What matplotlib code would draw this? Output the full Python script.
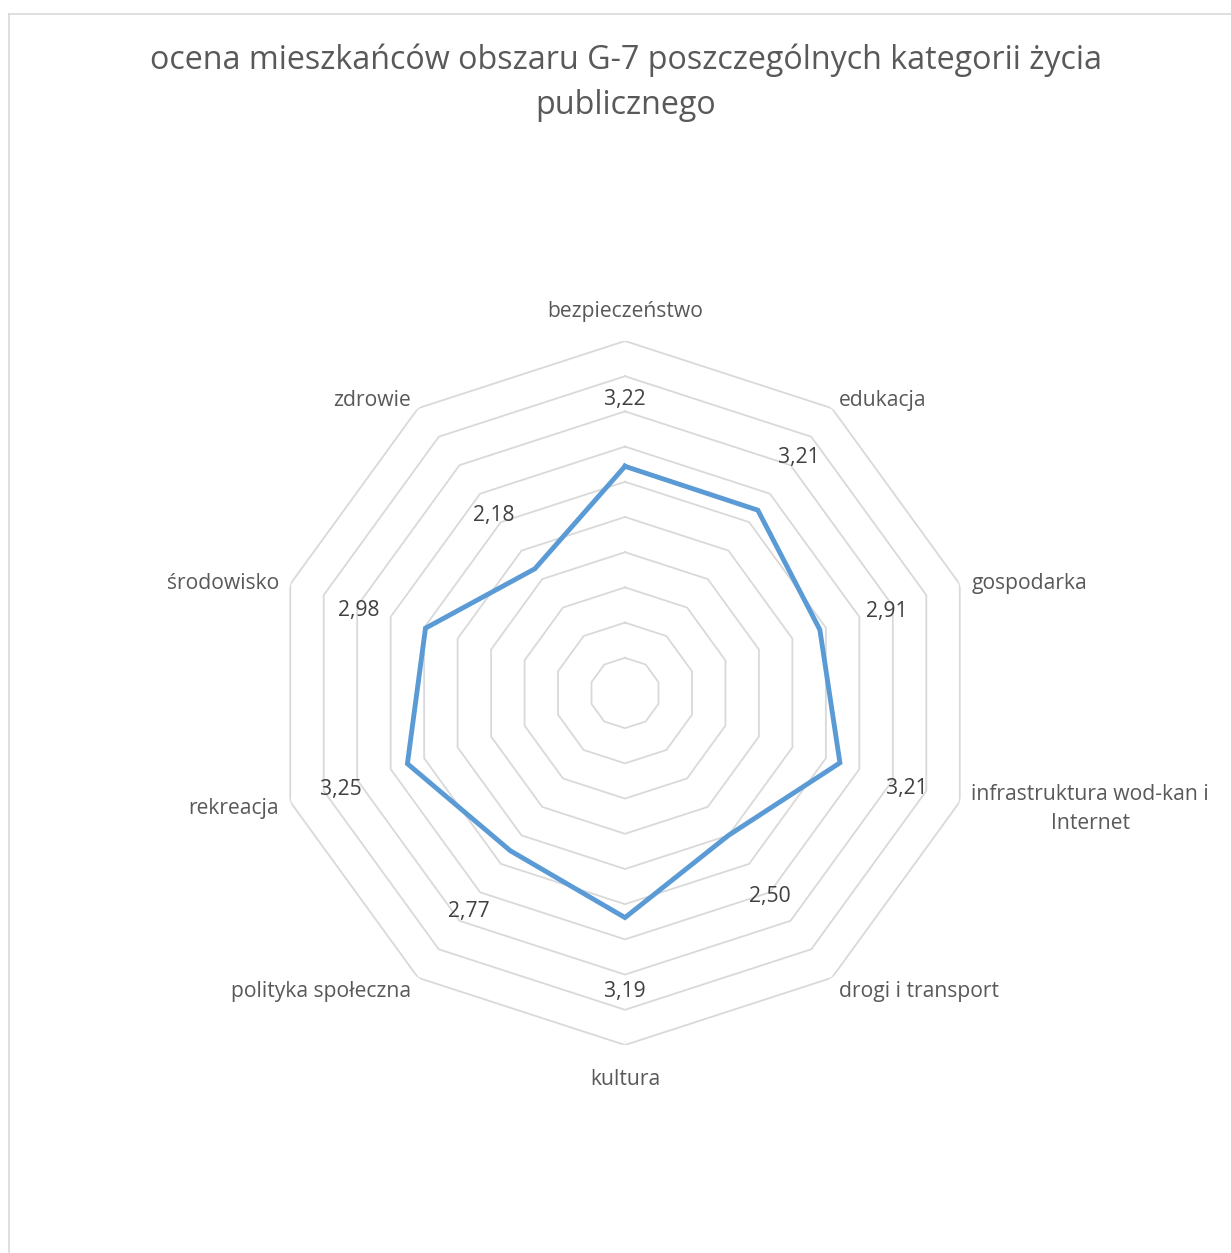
#!/usr/bin/env python3
"""Radar chart: ocena mieszkancow obszaru G-7 (kategorie zycia publicznego)."""

import numpy as np
import matplotlib
matplotlib.use('Agg')
import matplotlib.pyplot as plt
from matplotlib.lines import Line2D

categories = ['bezpieczeństwo', 'edukacja', 'gospodarka',
              'infrastruktura wod-kan i\nInternet', 'drogi i transport',
              'kultura', 'polityka społeczna', 'rekreacja', 'środowisko',
              'zdrowie']
values = [3.22, 3.21, 2.91, 3.21, 2.50, 3.19, 2.77, 3.25, 2.98, 2.18]
ring_levels = [0.5, 1.0, 1.5, 2.0, 2.5, 3.0, 3.5, 4.0, 4.5, 5.0]

TITLE = 'ocena mieszkańców obszaru G-7 poszczególnych kategorii życia\npublicznego'
LINE_COLOR = '#5B9BD5'
GRID_COLOR = '#D9D9D9'
TEXT_COLOR = '#595959'
LABEL_COLOR = '#404040'

plt.rcParams['font.family'] = ['Open Sans', 'DejaVu Sans']

W, H = 1231, 1253
fig = plt.figure(figsize=(W / 100, H / 100), dpi=100)

# chart area border (only top and left edge visible in the crop)
fig.add_artist(Line2D([9 / W, 9 / W], [0, 1 - 13.5 / H], color=GRID_COLOR, lw=1.2))
fig.add_artist(Line2D([9 / W, 1], [1 - 13.5 / H, 1 - 13.5 / H], color=GRID_COLOR, lw=1.2))

fig.text(626 / W, 1 - 83 / H, TITLE, ha='center', va='center', fontsize=23.2,
         color=TEXT_COLOR, linespacing=1.47)

cx, cy, rad = 625, 693, 352
ax = fig.add_axes([(cx - rad) / W, 1 - (cy + rad) / H, 2 * rad / W, 2 * rad / H],
                  projection='polar')
ax.set_theta_zero_location('N')
ax.set_theta_direction(-1)
ax.set_ylim(0, 5)
ax.set_axis_off()

n = len(categories)
theta = np.arange(n) * 2 * np.pi / n
theta_c = np.append(theta, theta[0])

for lvl in ring_levels:
    ax.plot(theta_c, [lvl] * (n + 1), color=GRID_COLOR, lw=1.3, zorder=1)

ax.plot(theta_c, values + values[:1], color=LINE_COLOR, lw=3.5,
        solid_joinstyle='miter', zorder=3)

for t, v in zip(theta, values):
    ax.annotate(f'{v:.2f}'.replace('.', ','), xy=(t, v + 1.0), xytext=(0, -4),
                textcoords='offset pixels', ha='center', va='center',
                fontsize=15.2, color=LABEL_COLOR, zorder=4)

for t, name in zip(theta, categories):
    s, c = np.sin(t), np.cos(t)
    if abs(s) < 1e-6:
        dx, dy = 0, 19 if c > 0 else -24
        ha = 'center'
        va = 'bottom' if c > 0 else 'top'
    else:
        dx, dy = 12 * s, 13 * c - 3
        ha = 'left' if s > 0 else 'right'
        va = 'center'
    ax.annotate(name, xy=(t, 5), xytext=(dx, dy), textcoords='offset pixels',
                ha=ha, va=va, multialignment='center', fontsize=15.2,
                color=TEXT_COLOR, linespacing=1.47, annotation_clip=False)

fig.savefig('out.png', dpi=100)
